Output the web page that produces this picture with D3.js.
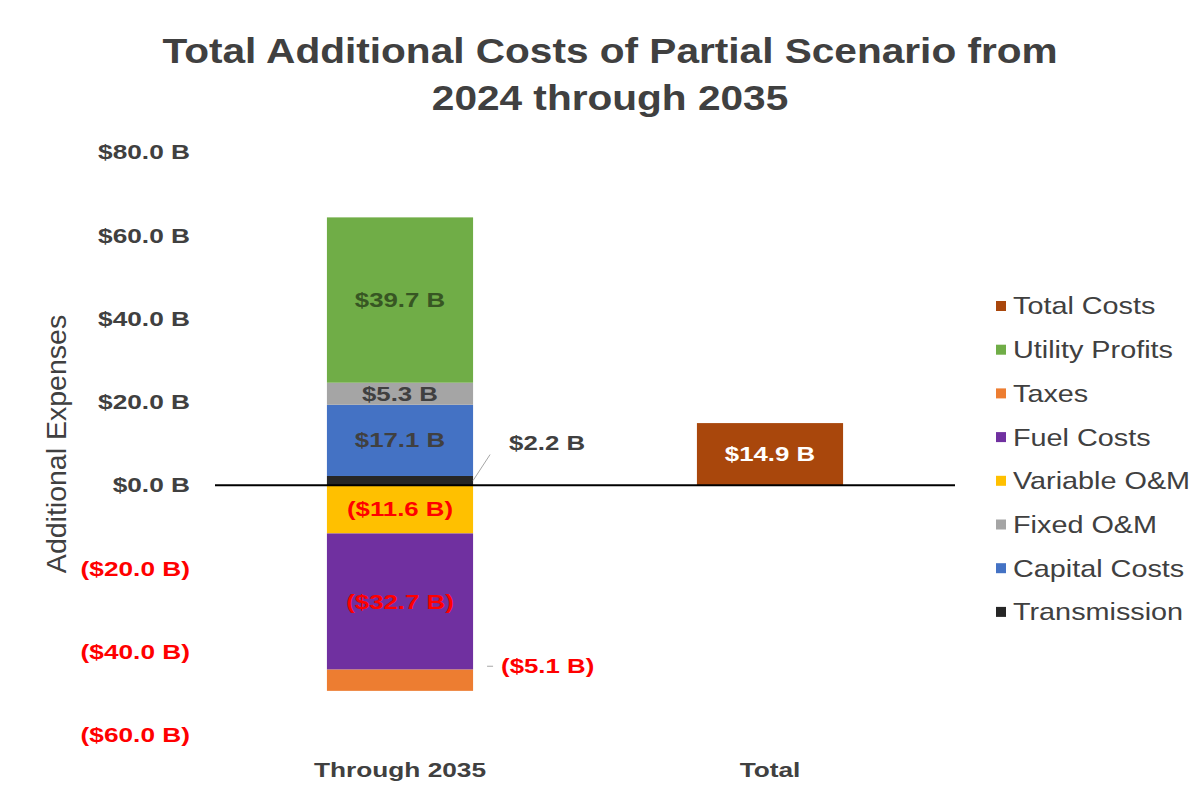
<!DOCTYPE html>
<html><head><meta charset="utf-8">
<script src="https://cdn.jsdelivr.net/npm/d3@7"></script>
<style>body{margin:0;background:#fff;}svg{display:block;font-family:"Liberation Sans",Arial,sans-serif;}</style>
</head><body>
<svg id="c" width="1204" height="792"></svg>
<script>
const categories = ["Through 2035", "Total"];
const seriesNames = ["Transmission", "Capital Costs", "Fixed O&M", "Variable O&M", "Fuel Costs", "Taxes", "Utility Profits", "Total Costs"];
const seriesColors = ["#262626", "#4472C4", "#A5A5A5", "#FFC000", "#7030A0", "#ED7D31", "#70AD47", "#A9470C"];
// values per series: [Through 2035, Total] in $B
const transmission = [2.2, 0];
const capitalCosts = [17.1, 0];
const fixedOM = [5.3, 0];
const variableOM = [-11.6, 0];
const fuelCosts = [-32.7, 0];
const taxes = [-5.1, 0];
const utilityProfits = [39.7, 0];
const totalCosts = [0, 14.9];
const yTicks = [-60, -40, -20, 0, 20, 40, 60, 80];
const legendOrder = ["Total Costs", "Utility Profits", "Taxes", "Fuel Costs", "Variable O&M", "Fixed O&M", "Capital Costs", "Transmission"];
const labelColors = ["#404040", "#404040", "#404040", "#FF0000", "#FF0000", "#FF0000", "#375623", "#FFFFFF"];

const seriesValues = [transmission, capitalCosts, fixedOM, variableOM, fuelCosts, taxes, utilityProfits, totalCosts];

const svg = d3.select("#c");
const W = 1204, H = 792;
svg.append("rect").attr("width", W).attr("height", H).attr("fill", "#fff");

const plot = {left: 215, right: 955, top: 152, bottom: 735};
const y = d3.scaleLinear().domain([-60, 80]).range([plot.bottom, plot.top]);
const x = d3.scaleBand().domain(categories).range([plot.left, plot.right]).paddingInner(0.605).paddingOuter(0.3025);

const fmt = v => v < 0 ? "($" + Math.abs(v).toFixed(1) + " B)" : "$" + v.toFixed(1) + " B";

// text helper with horizontal stretch
function stext(g, tx, ty, str, o) {
  return g.append("text")
    .attr("transform", `translate(${tx},${ty}) scale(${o.sx || 1},1)`)
    .attr("text-anchor", o.anchor || "start")
    .attr("dy", o.dy || null)
    .attr("font-size", o.size).attr("font-weight", o.weight || "normal")
    .attr("fill", o.fill || "#404040").text(str);
}

// Title
stext(svg, 610, 63, "Total Additional Costs of Partial Scenario from", {sx: 1.16, anchor: "middle", size: 35, weight: "bold", fill: "#404040"});
stext(svg, 610, 110, "2024 through 2035", {sx: 1.16, anchor: "middle", size: 35, weight: "bold", fill: "#404040"});

// Y axis ticks
const yAxis = d3.axisLeft(y).tickValues(yTicks).tickSize(0).tickPadding(0).tickFormat(fmt);
const gy = svg.append("g").attr("transform", "translate(190,0)").call(yAxis);
gy.select(".domain").remove();
gy.selectAll("text").attr("font-size", 21).attr("font-weight", "bold")
  .attr("font-family", "'Liberation Sans',Arial,sans-serif")
  .attr("transform", "scale(1.25,1)")
  .attr("fill", d => d < 0 ? "#FF0000" : "#404040");

// Y axis title
svg.append("text").attr("transform", "translate(66,444) rotate(-90)").attr("text-anchor", "middle")
  .attr("font-size", 28.5).attr("fill", "#404040").text("Additional Expenses");

// Stacked bars
const n = seriesNames.length;
const segs = [];
categories.forEach((cat, ci) => {
  let pos = 0, neg = 0;
  for (let s = 0; s < n; s++) {
    const v = seriesValues[s][ci];
    if (!v) continue;
    let y0, y1;
    if (v >= 0) { y0 = pos; y1 = pos + v; pos = y1; }
    else { y0 = neg; y1 = neg + v; neg = y1; }
    segs.push({cat, s, v, y0, y1});
  }
});

svg.append("g").selectAll("rect").data(segs).join("rect")
  .attr("x", d => x(d.cat))
  .attr("width", x.bandwidth())
  .attr("y", d => y(Math.max(d.y0, d.y1)))
  .attr("height", d => Math.abs(y(d.y0) - y(d.y1)))
  .attr("fill", d => seriesColors[d.s]);

// Zero line
svg.append("line").attr("x1", plot.left).attr("x2", plot.right)
  .attr("y1", y(0)).attr("y2", y(0)).attr("stroke", "#000").attr("stroke-width", 2);

// Data labels
const lbl = svg.append("g");
const lo = {sx: 1.29, size: 20, weight: "bold", dy: "0.35em"};
segs.forEach(d => {
  const mid = (d.y0 + d.y1) / 2;
  const cx = x(d.cat) + x.bandwidth() / 2;
  const bx = x(d.cat) + x.bandwidth();
  if (d.s === 0) {
    const ty = y(mid) - 38;
    lbl.append("line").attr("x1", bx).attr("y1", y(mid)).attr("x2", bx + 17).attr("y2", ty + 12)
      .attr("stroke", "#A6A6A6").attr("stroke-width", 1);
    stext(lbl, bx + 36, ty, fmt(d.v), Object.assign({}, lo, {fill: labelColors[d.s]}));
  } else if (d.s === 5) {
    const ty = y(mid) - 14;
    lbl.append("line").attr("x1", bx + 14).attr("y1", ty).attr("x2", bx + 20).attr("y2", ty)
      .attr("stroke", "#A6A6A6").attr("stroke-width", 1);
    stext(lbl, bx + 28, ty, fmt(d.v), Object.assign({}, lo, {fill: labelColors[d.s]}));
  } else {
    stext(lbl, cx, y(mid), fmt(d.v), Object.assign({}, lo, {anchor: "middle", fill: labelColors[d.s]}));
  }
});

// Category labels
categories.forEach(c => {
  stext(svg, x(c) + x.bandwidth() / 2, 777, c, {sx: 1.25, anchor: "middle", size: 21, weight: "bold", fill: "#404040"});
});

// Legend
const leg = svg.append("g");
legendOrder.forEach((name, i) => {
  const s = seriesNames.indexOf(name);
  const yy = 306 + i * 43.7;
  leg.append("rect").attr("x", 996).attr("y", yy - 5).attr("width", 10).attr("height", 10).attr("fill", seriesColors[s]);
  stext(leg, 1013, yy, name, {sx: 1.2, size: 24, dy: "0.35em", fill: "#404040"});
});
</script>
</body></html>
